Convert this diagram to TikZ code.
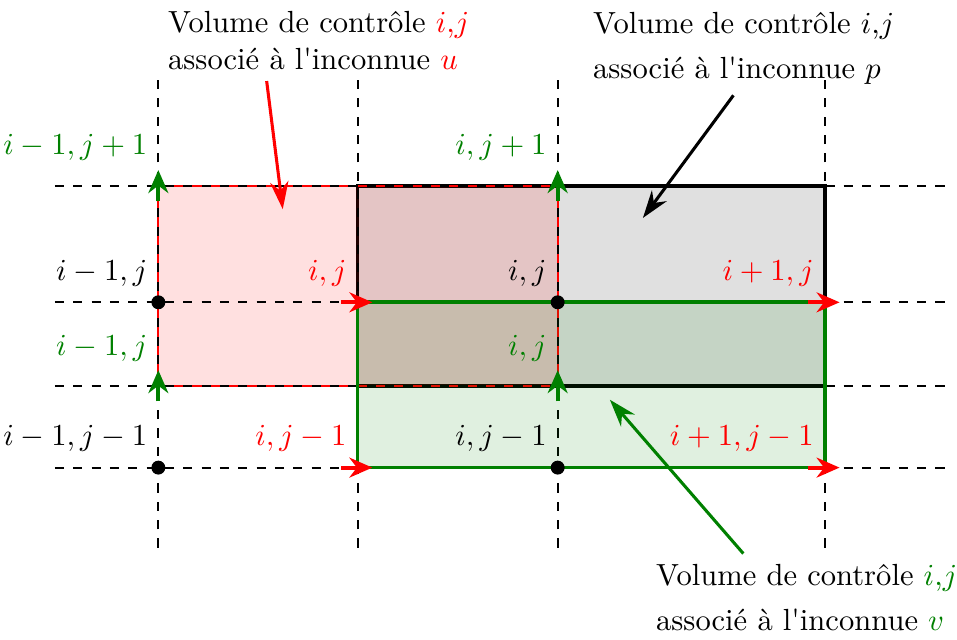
\documentclass[tikz,border=0pt]{standalone}
\usepackage{tikz}
\usetikzlibrary{arrows.meta,positioning,calc}
\tikzset{every picture/.style={line width=0.6pt}}
\colorlet{vert}{green!50!black}

\begin{document}
\begin{tikzpicture}[
    grille/.style={dashed, black, line width=0.65pt},
    fluxu/.style={red, line width=1.3pt, -{Stealth[length=7.5pt,width=6.5pt]}},
    fluxv/.style={vert, line width=1.3pt, -{Stealth[length=7.5pt,width=6.5pt]}},
    fleche/.style={line width=1pt, -{Stealth[length=9pt,width=6pt]}},
    lab/.style={anchor=south east, yshift=1.5pt},
    labv/.style={anchor=south east, yshift=4.5pt, text=vert},
    vol/.style={anchor=north west, align=left}
]
    \useasboundingbox (0,0) rectangle (11,7.345);

    % volumes de contrôle p et u
    \draw[line width=1.2pt, fill=black, fill opacity=0.12] (4.11,2.91) rectangle (9.48,5.21);
    \draw[red, line width=0.6pt, fill=red, fill opacity=0.12] (1.82,2.91) rectangle (6.41,5.21);

    % maillage
    \foreach \x in {1.82,4.11,6.41,9.48}
        \draw[grille] (\x,1.05) -- (\x,6.43);
    \foreach \y in {1.97,2.91,3.87,5.21}
        \draw[grille] (0.63,\y) -- (10.86,\y);

    % volume de contrôle v
    \draw[line width=1.2pt, vert, fill=vert, fill opacity=0.12] (4.11,1.97) rectangle (9.48,3.87);

    % points de pression
    \foreach \x/\y in {1.82/3.87, 6.41/3.87, 1.82/1.97, 6.41/1.97}
        \fill (\x,\y) circle (0.08);

    % vitesses u et v
    \foreach \x/\y in {4.11/3.87, 9.48/3.87, 4.11/1.97, 9.48/1.97}
        \draw[fluxu] (\x-0.19,\y) -- (\x+0.17,\y);
    \foreach \x/\y in {1.82/5.21, 6.41/5.21, 1.82/2.91, 6.41/2.91}
        \draw[fluxv] (\x,\y-0.18) -- (\x,\y+0.18);

    % indices
    \node[lab] (p1) at (1.82,3.87) {$i-1,j$};
    \node[lab] (p2) at (6.41,3.87) {$i,j$};
    \node[lab] (p3) at (1.82,1.97) {$i-1,j-1$};
    \node[lab] (p4) at (6.41,1.97) {$i,j-1$};
    \node[lab, red] (u1) at (4.11,3.87) {$i,j$};
    \node[lab, red] (u2) at (9.48,3.87) {$i+1,j$};
    \node[lab, red] (u3) at (4.11,1.97) {$i,j-1$};
    \node[lab, red] (u4) at (9.48,1.97) {$i+1,j-1$};
    \node[labv] (v1) at (1.82,5.21) {$i-1,j+1$};
    \node[labv] (v2) at (6.41,5.21) {$i,j+1$};
    \node[labv] (v3) at (1.82,2.91) {$i-1,j$};
    \node[labv] (v4) at (6.41,2.91) {$i,j$};

    % annotations
    \node[vol] (volu) at (1.805,7.338) {Volume de contrôle \textcolor{red}{$i$,$j$}\\
        associé à l\textquotesingle inconnue \textcolor{red}{$u$}};
    \node[vol] (volp) at (6.69,7.326) {Volume de contrôle $i$,$j$\\[2.5pt]
        associé à l\textquotesingle inconnue $p$};
    \node[vol] (volv) at (7.414,0.982) {Volume de contrôle \textcolor{vert}{$i$,$j$}\\[2.5pt]
        associé à l\textquotesingle inconnue \textcolor{vert}{$v$}};

    \coordinate (cu) at (3.25,4.94);
    \coordinate (cp) at (7.39,4.84);
    \coordinate (cv) at (7.01,2.75);
    \draw[fleche, red] ([xshift=1.26cm]volu.south west) -- (cu);
    \draw[fleche] ([xshift=1.74cm]volp.south west) -- (cp);
    \draw[fleche, vert] ([xshift=1.13cm]volv.north west) -- (cv);
\end{tikzpicture}
\end{document}
